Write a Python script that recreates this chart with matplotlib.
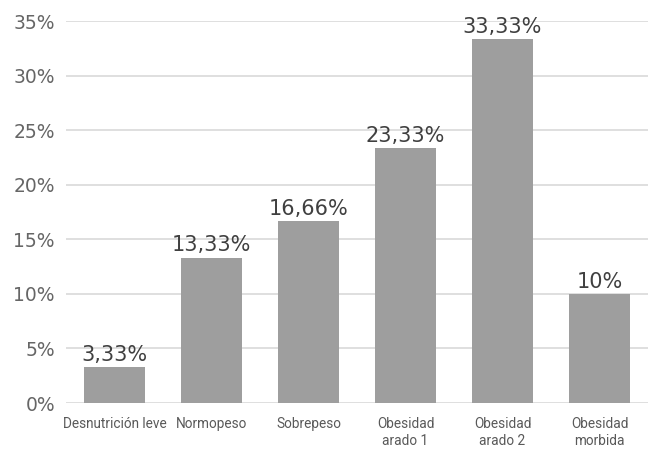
import matplotlib.pyplot as plt
from matplotlib.ticker import FuncFormatter

categories = ['Desnutrición leve', 'Normopeso', 'Sobrepeso',
              'Obesidad\narado 1', 'Obesidad\narado 2', 'Obesidad\nmorbida']
values = [3.33, 13.33, 16.66, 23.33, 33.33, 10]
value_labels = ['3,33%', '13,33%', '16,66%', '23,33%', '33,33%', '10%']

fig = plt.figure(figsize=(6.48, 4.57), dpi=100)
ax = fig.add_axes([0.102, 0.118, 0.898, 0.836])

x = range(len(categories))
bars = ax.bar(x, values, width=0.63, color='#9e9e9e', zorder=3)

for b, lab in zip(bars, value_labels):
    ax.text(b.get_x() + b.get_width() / 2, b.get_height() + 0.2, lab,
            ha='center', va='bottom', fontsize=15, color='#404040',
            family='DejaVu Sans', zorder=4)

ax.set_ylim(0, 35)
ax.set_xlim(-0.5, 5.5)
ax.set_yticks(range(0, 36, 5))
ax.yaxis.set_major_formatter(FuncFormatter(lambda v, p: f'{int(v)}%'))
ax.grid(axis='y', color='#d9d9d9', linewidth=1.2, zorder=0)
ax.set_xticks(list(x))
ax.set_xticklabels(categories, fontsize=9.8, color='#595959',
                   family=['Roboto', 'DejaVu Sans'], linespacing=1.3)
for lab in ax.get_yticklabels():
    lab.set_fontsize(13.5)
    lab.set_color('#666666')
    lab.set_family('DejaVu Sans')
ax.tick_params(axis='y', length=0, pad=8)
ax.tick_params(axis='x', length=0, pad=10)
for s in ax.spines.values():
    s.set_visible(False)

plt.savefig('out.png')
